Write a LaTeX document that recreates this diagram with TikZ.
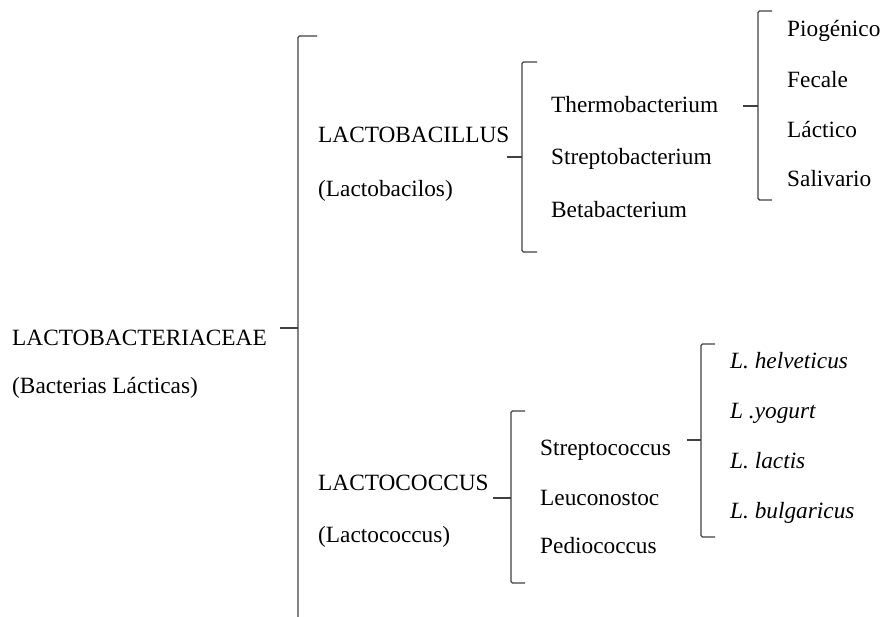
\documentclass[tikz,border=0pt]{standalone}
\usepackage{fontspec}
\setmainfont{Liberation Serif}
\begin{document}
\begin{tikzpicture}[x=1pt,y=-1pt,
  lbl/.style={anchor=base west,inner sep=0pt,font=\fontsize{23.3}{27}\selectfont},
  brk/.style={draw=black!75,line width=1.4pt,rounded corners=1.5pt}]
\useasboundingbox (0,0) rectangle (883,617);
% brackets: #1 x, top y, bottom y, hook end x, tick y, tick start x
\newcommand{\mybrk}[6]{%
  \draw[brk] (#4,#2) -- (#1,#2) -- (#1,#3) -- (#4,#3);
  \draw[brk] (#6,#5) -- (#1,#5);}
% main bracket (runs off the bottom)
\draw[brk] (317,36) -- (298,36) -- (298,617);
\draw[brk] (280,328) -- (298,328);
\mybrk{522}{62}{252}{537}{157}{507}
\mybrk{758}{11}{200}{772}{106}{743}
\mybrk{511}{411}{583}{525}{498}{493}
\mybrk{701}{344}{537}{715}{440}{687}
% text
\node[lbl] (fam) at (12,345) {LACTOBACTERIACEAE};
\node[lbl] (famb) at (12,393) {(Bacterias Lácticas)};
\node[lbl] (lb) at (318,143) {LACTOBACILLUS};
\node[lbl] (lbb) at (318,197) {(Lactobacilos)};
\node[lbl] (lc) at (318,490) {LACTOCOCCUS};
\node[lbl] (lcb) at (318,542) {(Lactococcus)};
\node[lbl] (t1) at (551,113) {Thermobacterium};
\node[lbl] (t2) at (551,165) {Streptobacterium};
\node[lbl] (t3) at (551,218) {Betabacterium};
\node[lbl] (p1) at (787,37) {Piogénico};
\node[lbl] (p2) at (787,88) {Fecale};
\node[lbl] (p3) at (787,138) {Láctico};
\node[lbl] (p4) at (787,187) {Salivario};
\node[lbl] (s1) at (540,455) {Streptococcus};
\node[lbl] (s2) at (540,505) {Leuconostoc};
\node[lbl] (s3) at (540,553) {Pediococcus};
\node[lbl] (h1) at (730,368) {\itshape L. helveticus};
\node[lbl] (h2) at (730,418) {\itshape L .yogurt};
\node[lbl] (h3) at (730,468) {\itshape L. lactis};
\node[lbl] (h4) at (730,518) {\itshape L. bulgaricus};
\end{tikzpicture}
\end{document}
